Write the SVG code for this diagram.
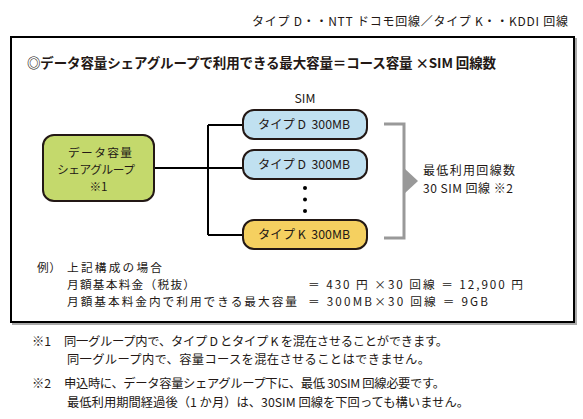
<svg xmlns="http://www.w3.org/2000/svg" width="583" height="419" viewBox="0 0 583 419">
<style>
text{font-family:"Noto Sans CJK JP","Noto Sans",sans-serif;fill:#231815}
.t12{font-size:12px}
.t125{font-size:12.3px}
.t13{font-size:11.7px}
.node{stroke:#231815;stroke-width:2}
.conn{fill:none;stroke:#000;stroke-width:2}
.mid{text-anchor:middle}
</style>
<rect width="583" height="419" fill="#fff"/>
<text class="t12" x="252" y="26" textLength="316">タイプ D・・NTT ドコモ回線／タイプ K・・KDDI 回線</text>
<g id="frame">
<rect x="13" y="39" width="563" height="285" fill="none" stroke="#aaa" stroke-width="2"/>
<rect x="11" y="37" width="563" height="285" fill="#fff" stroke="#000" stroke-width="2"/>
</g>
<text x="27" y="68" font-size="13.5" font-weight="bold" textLength="469">◎データ容量シェアグループで利用できる最大容量＝コース容量 ×SIM 回線数</text>
<text class="t125 mid" x="305" y="103">SIM</text>
<g id="connectors">
<path class="conn" d="M154 168 H243 M208 125 V235 M208 125 H243 M208 235 H243"/>
<path d="M384 124 H404 V238 H384" fill="none" stroke="#999" stroke-width="3"/>
<polygon points="404,168 418,181 404,194" fill="#999"/>
</g>
<g id="group">
<rect class="node" x="43" y="135" width="111" height="66" rx="11" fill="#c4d96c"/>
<text class="t13" x="68" y="157" textLength="64">データ容量</text>
<text class="t13" x="57" y="174" textLength="78">シェアグループ</text>
<text class="t13 mid" x="98.5" y="191">※1</text>
</g>
<g id="sim1">
<rect class="node" x="243" y="110" width="124" height="29" rx="11" fill="#c0e0f0"/>
<text class="t125" x="258" y="129" textLength="92" xml:space="preserve">タイプ D  300MB</text>
</g>
<g id="sim2">
<rect class="node" x="243" y="150" width="124" height="29" rx="11" fill="#c0e0f0"/>
<text class="t125" x="258" y="169" textLength="92" xml:space="preserve">タイプ D  300MB</text>
</g>
<g id="dots" fill="#000">
<circle cx="305" cy="188" r="2"/>
<circle cx="305" cy="199.5" r="2"/>
<circle cx="305" cy="211" r="2"/>
</g>
<g id="sim3">
<rect class="node" x="243" y="220" width="124" height="29" rx="11" fill="#f5d060"/>
<text class="t125" x="258" y="239" textLength="92" xml:space="preserve">タイプ K  300MB</text>
</g>
<g id="minimum">
<text class="t12" x="423" y="175" textLength="92">最低利用回線数</text>
<text class="t12" x="423" y="193" textLength="90">30 SIM 回線 ※2</text>
</g>
<g id="example">
<text class="t13" x="37" y="271.5" textLength="24">例）</text>
<text class="t13" x="67" y="271.5" textLength="95">上記構成の場合</text>
<text class="t13" x="67" y="288.5" textLength="128">月額基本料金（税抜）</text>
<text class="t13" x="308" y="288.5" textLength="215">＝ 430 円 ×30 回線 ＝ 12,900 円</text>
<text class="t13" x="67" y="305.5" textLength="230">月額基本料金内で利用できる最大容量</text>
<text class="t13" x="308" y="305.5" textLength="180">＝ 300MB×30 回線 ＝ 9GB</text>
</g>
<g id="notes">
<text class="t125" x="32" y="346">※1</text>
<text class="t125" x="64" y="346" textLength="384">同一グループ内で、タイプ D とタイプ K を混在させることができます。</text>
<text class="t125" x="67" y="364" textLength="363">同一グループ内で、容量コースを混在させることはできません。</text>
<text class="t125" x="32" y="388">※2</text>
<text class="t125" x="64" y="388" textLength="381">申込時に、データ容量シェアグループ下に、最低 30SIM 回線必要です。</text>
<text class="t125" x="67" y="407" textLength="402">最低利用期間経過後（1 か月）は、30SIM 回線を下回っても構いません。</text>
</g>
</svg>
